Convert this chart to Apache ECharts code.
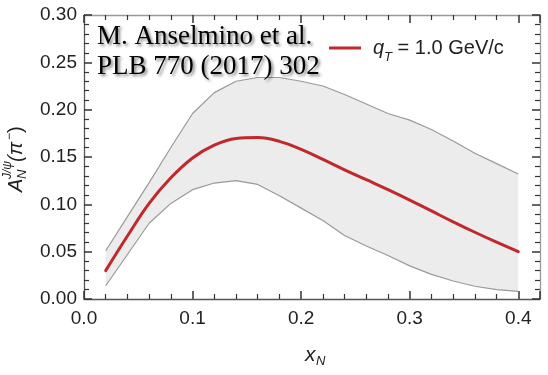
<!DOCTYPE html>
<html>
<head>
<meta charset="utf-8">
<script src="https://cdn.jsdelivr.net/npm/echarts@6/dist/echarts.min.js"></script>
<style>html,body{margin:0;padding:0;background:#fff}#c{width:548px;height:375px}</style>
</head>
<body>
<div id="c"></div>
<script>
// ---- data ----
const xN      = [0.02, 0.04, 0.06, 0.08, 0.10, 0.12, 0.14, 0.16, 0.18, 0.20, 0.22, 0.24, 0.26, 0.28, 0.30, 0.32, 0.34, 0.36, 0.38, 0.40];
const central = [0.030, 0.0665, 0.101, 0.128, 0.149, 0.1625, 0.1695, 0.1705, 0.1665, 0.158, 0.1475, 0.1365, 0.126, 0.1155, 0.1045, 0.093, 0.0815, 0.0705, 0.060, 0.050];
const upper   = [0.051, 0.087, 0.123, 0.160, 0.196, 0.218, 0.230, 0.234, 0.234, 0.230, 0.225, 0.216, 0.206, 0.196, 0.189, 0.179, 0.167, 0.154, 0.143, 0.132];
const lower   = [0.014, 0.047, 0.080, 0.101, 0.1155, 0.1225, 0.125, 0.121, 0.109, 0.096, 0.083, 0.067, 0.056, 0.046, 0.035, 0.026, 0.019, 0.0135, 0.010, 0.008];
const xTickLabels = ['0.0', '0.1', '0.2', '0.3', '0.4'];
const yTickLabels = ['0.00', '0.05', '0.10', '0.15', '0.20', '0.25', '0.30'];
const legendName = 'qT = 1.0 GeV/c';
const refLine1 = 'M. Anselmino et al.';
const refLine2 = 'PLB 770 (2017) 302';

const X_MIN = 0, X_MAX = 0.42, Y_MIN = 0, Y_MAX = 0.30;
const pair = (ys) => xN.map((x, i) => [x, ys[i]]);

const labelFont = '"Liberation Sans", Arial, Helvetica, sans-serif';
const chart = echarts.init(document.getElementById('c'));

function axisBase(lineColor) {
  return {
    axisLine: {show: true, onZero: false, lineStyle: {color: lineColor, width: 1.3}},
    axisTick: {show: true, inside: true, length: 8, lineStyle: {color: '#333', width: 1.5}},
    minorTick: {show: true, splitNumber: 5, length: 5, lineStyle: {color: '#333', width: 1.2}},
    splitLine: {show: false},
    minorSplitLine: {show: false}
  };
}

// band polygon drawn through the axis scales
function renderBand(params, api) {
  if (params.dataIndex !== 0) return null;
  const pts = [];
  for (let i = 0; i < xN.length; i++) pts.push(api.coord([xN[i], upper[i]]));
  for (let i = xN.length - 1; i >= 0; i--) pts.push(api.coord([xN[i], lower[i]]));
  return {type: 'polygon', shape: {points: pts}, style: {fill: '#ececec', stroke: null}};
}

chart.setOption({
  animation: false,
  grid: {left: 84, right: 8, top: 15, bottom: 76},
  xAxis: [
    Object.assign(axisBase('#555'), {
      type: 'value', min: X_MIN, max: X_MAX, interval: 0.1, position: 'bottom',
      axisLabel: {
        color: '#222', fontSize: 19, fontFamily: labelFont, margin: 10,
        formatter: (v) => { const i = Math.round(v * 10); return (Math.abs(v - i / 10) < 1e-9 && xTickLabels[i] !== undefined) ? xTickLabels[i] : ''; }
      }
    }),
    Object.assign(axisBase('#999'), {type: 'value', min: X_MIN, max: X_MAX, interval: 0.1, position: 'top', axisLabel: {show: false}})
  ],
  yAxis: [
    Object.assign(axisBase('#555'), {
      type: 'value', min: Y_MIN, max: Y_MAX, interval: 0.05, position: 'left',
      axisLabel: {
        color: '#222', fontSize: 19, fontFamily: labelFont, margin: 7,
        formatter: (v) => { const i = Math.round(v / 0.05); return yTickLabels[i] !== undefined ? yTickLabels[i] : ''; }
      }
    }),
    Object.assign(axisBase('#999'), {type: 'value', min: Y_MIN, max: Y_MAX, interval: 0.05, position: 'right', axisLabel: {show: false}})
  ],
  legend: {
    show: true,
    left: 324, top: 33,
    icon: 'rect', itemWidth: 32, itemHeight: 3, itemGap: 10,
    data: [legendName],
    formatter: () => '{q|q}{t|T}{n| = 1.0 GeV/c}',
    textStyle: {
      color: '#222',
      rich: {
        q: {fontSize: 20, fontStyle: 'italic', fontFamily: labelFont, padding: [0, 0, 0, 7]},
        t: {fontSize: 13, fontStyle: 'italic', fontFamily: labelFont, verticalAlign: 'bottom', padding: [0, 0, -6, 0]},
        n: {fontSize: 20, fontFamily: labelFont}
      }
    }
  },
  series: [
    {name: 'band', type: 'custom', renderItem: renderBand, data: [[0.2, 0.1]], silent: true, z: 1},
    {name: 'upperEdge', type: 'line', data: pair(upper), symbol: 'none', lineStyle: {color: '#9a9a9a', width: 1.2}, z: 2, silent: true},
    {name: 'lowerEdge', type: 'line', data: pair(lower), symbol: 'none', lineStyle: {color: '#9a9a9a', width: 1.2}, z: 2, silent: true},
    {
      name: legendName, type: 'line', data: pair(central), symbol: 'none', smooth: 0.4,
      itemStyle: {color: '#c0282c'},
      lineStyle: {color: '#c0282c', width: 3, cap: 'round'}, z: 3
    }
  ],
  graphic: [
    {
      type: 'text', left: 97, top: 22, z: 10,
      style: {
        text: refLine1 + '\n' + refLine2, fill: '#000',
        font: '27px "Liberation Serif", "Times New Roman", serif', lineHeight: 30,
        shadowColor: 'rgba(0,0,0,0.5)', shadowBlur: 3, shadowOffsetX: 2, shadowOffsetY: 2,
        textShadowColor: 'rgba(0,0,0,0.5)', textShadowBlur: 3, textShadowOffsetX: 2, textShadowOffsetY: 2
      }
    },
    {
      type: 'group', x: 17, y: 155, rotation: Math.PI / 2, z: 10,
      children: [
        {type: 'text', x: -37, y: 9, style: {text: 'A', font: 'italic 20px ' + labelFont, fill: '#222', textVerticalAlign: 'bottom', verticalAlign: 'bottom'}},
        {type: 'text', x: -24, y: 12, style: {text: 'N', font: 'italic 13px ' + labelFont, fill: '#222', textVerticalAlign: 'bottom', verticalAlign: 'bottom'}},
        {type: 'text', x: -24, y: -3, style: {text: 'J/ψ', font: 'italic 12px ' + labelFont, fill: '#222', textVerticalAlign: 'bottom', verticalAlign: 'bottom'}},
        {type: 'text', x: -7, y: 9, style: {text: '(π', font: 'italic 20px ' + labelFont, fill: '#222', textVerticalAlign: 'bottom', verticalAlign: 'bottom'}},
        {type: 'text', x: 15, y: -1, style: {text: '−', font: '12px ' + labelFont, fill: '#222', textVerticalAlign: 'bottom', verticalAlign: 'bottom'}},
        {type: 'text', x: 22, y: 9, style: {text: ')', font: '20px ' + labelFont, fill: '#222', textVerticalAlign: 'bottom', verticalAlign: 'bottom'}}
      ]
    },
    {type: 'text', left: 305, top: 345, z: 10, style: {text: 'x', font: 'italic 21px ' + labelFont, fill: '#222'}},
    {type: 'text', left: 316, top: 355, z: 10, style: {text: 'N', font: 'italic 13px ' + labelFont, fill: '#222'}}
  ]
});
</script>
</body>
</html>
